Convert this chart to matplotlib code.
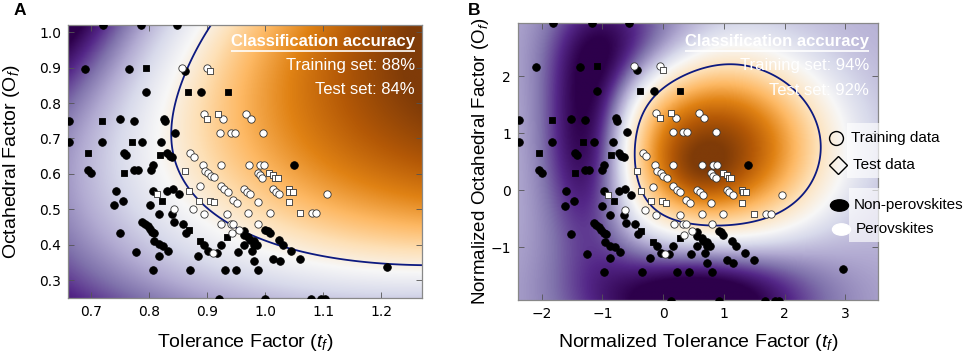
"""Perovskite formability: SVM decision maps in raw and normalized factor space"""

import numpy as np
import matplotlib

matplotlib.use("Agg")
import matplotlib.pyplot as plt
from matplotlib.colors import TwoSlopeNorm
from matplotlib.lines import Line2D
from matplotlib.patches import Rectangle
from matplotlib.path import Path

plt.rcParams["font.family"] = ["Liberation Sans", "DejaVu Sans"]
plt.rcParams["mathtext.fontset"] = "custom"
plt.rcParams["mathtext.rm"] = "Liberation Sans"
plt.rcParams["mathtext.it"] = "Liberation Sans:italic"

# ---- data (tolerance factor, octahedral factor) ----
# non-perovskites, training set (black circles)
non_train_tf = [0.72, 0.786, 0.848, 0.69, 0.765, 0.861, 0.794, 0.89, 0.662, 0.749,
                0.774, 0.826, 0.827, 0.845, 0.662, 0.718, 0.788, 0.821, 0.757, 0.76,
                0.831, 0.835, 0.84, 1.05, 0.695, 0.70, 0.774, 0.781, 0.803, 0.806,
                0.742, 0.806, 0.831, 0.841, 0.851, 0.74, 0.755, 0.802, 0.816, 0.839,
                0.843, 0.858, 0.788, 0.792, 0.797, 0.801, 0.805, 0.809, 0.75, 0.864,
                0.808, 0.816, 0.824, 0.833, 0.777, 0.816, 0.806, 0.87, 0.93, 0.95,
                0.988, 0.895, 0.884, 0.902, 0.916, 0.923, 0.953, 0.963, 0.964, 0.971,
                0.974, 0.98, 1.0, 1.004, 1.008, 1.023, 0.963, 0.98, 0.986, 1.03,
                0.977, 1.044, 1.014, 1.025, 1.06, 0.981, 1.21, 0.92, 1.0, 1.079,
                1.096, 1.103]
non_train_of = [1.02, 1.02, 1.02, 0.897, 0.897, 0.89, 0.83, 0.83, 0.75, 0.754,
                0.749, 0.756, 0.748, 0.716, 0.69, 0.69, 0.69, 0.69, 0.658, 0.652,
                0.658, 0.651, 0.648, 0.625, 0.61, 0.602, 0.61, 0.61, 0.61, 0.626,
                0.553, 0.553, 0.553, 0.558, 0.543, 0.511, 0.525, 0.511, 0.487, 0.487,
                0.465, 0.46, 0.465, 0.458, 0.452, 0.445, 0.437, 0.434, 0.434, 0.434,
                0.41, 0.401, 0.397, 0.383, 0.379, 0.368, 0.328, 0.328, 0.328, 0.328,
                0.328, 0.40, 0.368, 0.382, 0.378, 0.40, 0.379, 0.438, 0.429, 0.422,
                0.413, 0.41, 0.443, 0.438, 0.432, 0.413, 0.399, 0.399, 0.399, 0.399,
                0.382, 0.382, 0.36, 0.354, 0.36, 0.354, 0.337, 0.248, 0.248, 0.248,
                0.248, 0.248]

# non-perovskites, test set (black squares)
non_test_tf = [0.794, 0.866, 0.935, 0.718, 0.77, 0.695, 0.818, 0.756, 0.822, 0.868,
               0.888, 0.934]
non_test_of = [0.90, 0.83, 0.83, 0.75, 0.69, 0.658, 0.653, 0.604, 0.525, 0.443,
               0.41, 0.422]

# perovskites, training set (white circles)
per_train_tf = [0.857, 0.90, 0.894, 0.927, 0.967, 0.975, 0.922, 0.94, 0.947, 0.996,
                0.871, 0.877, 0.892, 0.923, 0.972, 0.991, 0.998, 0.896, 0.902, 0.906,
                0.912, 0.987, 0.991, 0.995, 0.888, 0.923, 0.929, 0.935, 0.963, 0.968,
                0.974, 1.014, 1.018, 1.024, 1.107, 0.945, 0.952, 0.987, 0.842, 0.876,
                0.894, 0.934, 0.971, 1.008, 1.08, 1.088, 0.924, 0.94, 0.944, 0.988,
                0.942, 0.955, 0.909, 1.28]
per_train_of = [0.90, 0.90, 0.77, 0.755, 0.77, 0.755, 0.716, 0.716, 0.716, 0.716,
                0.658, 0.649, 0.625, 0.625, 0.625, 0.625, 0.625, 0.609, 0.602, 0.595,
                0.59, 0.604, 0.596, 0.588, 0.565, 0.566, 0.557, 0.549, 0.557, 0.55,
                0.543, 0.557, 0.55, 0.543, 0.543, 0.527, 0.519, 0.52, 0.501, 0.501,
                0.487, 0.487, 0.49, 0.49, 0.49, 0.49, 0.46, 0.46, 0.46, 0.46,
                0.432, 0.443, 0.378, 0.337]

# perovskites, test set (white squares)
per_test_tf = [0.905, 0.90, 0.919, 0.862, 0.813, 0.868, 0.885, 0.904, 0.911, 1.007,
               1.014, 1.017, 1.021, 1.04, 1.041, 1.047, 1.04, 1.06]
per_test_of = [0.89, 0.755, 0.77, 0.609, 0.543, 0.553, 0.525, 0.525, 0.52, 0.604,
               0.597, 0.588, 0.588, 0.557, 0.55, 0.55, 0.52, 0.49]

# panel A decision boundary
bound_tf = [0.909, 0.857, 0.84, 0.836, 0.84, 0.852, 0.863, 0.903, 0.947, 1.004,
            1.062, 1.154, 1.273]
bound_of = [1.02, 0.90, 0.80, 0.72, 0.65, 0.60, 0.583, 0.49, 0.443, 0.41,
            0.382, 0.359, 0.345]

# panel A shading levels read at a few spots (-1 darkest purple, +1 darkest brown)
shade_tf = [0.66, 0.66, 0.66, 0.66, 0.75, 0.95, 1.27, 1.27, 1.27, 1.27, 1.1]
shade_of = [0.25, 0.45, 0.65, 1.02, 1.02, 0.25, 0.25, 0.45, 0.70, 1.02, 0.90]
shade_val = [-1.0, -0.55, -0.35, -0.8, -0.45, -0.35, -0.1, 0.25, 0.6, 1.0, 0.65]
# extra darkening in the top-left corner of panel A (tf, of, width tf, width of, level)
corner_shade = (0.62, 1.08, 0.11, 0.2, -0.33)

# normalization used for panel B
tf_mean, tf_std = 0.906, 0.1029
of_mean, of_std = 0.5557, 0.1584

# panel B RBF-like decision surface: gaussian terms in normalized units
rbf_u = [0.85, 0.6, -1.2, -0.5, 0.6]
rbf_v = [0.75, 0.35, 0.9, 2.6, -1.9]
rbf_su = [1.2, 0.45, 0.55, 0.8, 1.3]
rbf_sv = [1.05, 0.4, 1.3, 0.7, 0.7]
rbf_w = [2.65, 0.4, -1.3, -0.6, -1.2]
rbf_bias = -0.92

acc_a = ("88%", "84%")
acc_b = ("94%", "92%")

xlim_a, ylim_a = (0.66, 1.27), (0.25, 1.02)
xlim_b = ((xlim_a[0] - tf_mean) / tf_std, (xlim_a[1] - tf_mean) / tf_std)
ylim_b = ((ylim_a[0] - of_mean) / of_std, (ylim_a[1] - of_mean) / of_std)


def to_norm(tf, of):
    return (np.asarray(tf) - tf_mean) / tf_std, (np.asarray(of) - of_mean) / of_std


def quad_terms(u, v):
    return np.stack([u**2, u * v, v**2, u, v, np.ones_like(u)], axis=-1)


# quadratic (poly-kernel-like) surface for panel A: zero on the boundary,
# matching the shading levels elsewhere
bu, bv = to_norm(bound_tf, bound_of)
su_, sv_ = to_norm(shade_tf, shade_of)
rows = np.vstack([quad_terms(bu, bv) * 4.0, quad_terms(su_, sv_)])
target = np.concatenate([np.zeros(len(bu)), np.asarray(shade_val)])
coef = np.linalg.lstsq(rows, target, rcond=None)[0]


def rbf_surface(u, v):
    out = np.full_like(u, rbf_bias)
    for cu, cv, su, sv, w in zip(rbf_u, rbf_v, rbf_su, rbf_sv, rbf_w):
        out += w * np.exp(-((u - cu) ** 2 / (2 * su**2) + (v - cv) ** 2 / (2 * sv**2)))
    return out


fig = plt.figure(figsize=(9.65, 3.6), dpi=100)
axA = fig.add_axes([0.0705, 0.1722, 0.3668, 0.7583])
axB = fig.add_axes([0.5368, 0.1667, 0.373, 0.7694])

# ---- panel A ----
gx = np.linspace(*xlim_a, 400)
gy = np.linspace(*ylim_a, 400)
GX, GY = np.meshgrid(gx, gy)
GU, GV = to_norm(GX, GY)
fa = quad_terms(GU, GV) @ coef
ct, co, wt, wo, lev = corner_shade
fa = fa + lev * np.exp(-((GX - ct) ** 2 / (2 * wt**2) + (GY - co) ** 2 / (2 * wo**2)))
norm_a = TwoSlopeNorm(vmin=-1.0, vcenter=-0.06, vmax=0.82)
axA.imshow(fa, extent=(*xlim_a, *ylim_a), origin="lower", aspect="auto",
           cmap="PuOr_r", norm=norm_a, interpolation="bilinear", zorder=0)
axA.contour(GX, GY, fa, levels=[0], colors="#0d1a80", linewidths=1.3, zorder=2)

# ---- panel B ----
hx = np.linspace(*xlim_b, 400)
hy = np.linspace(*ylim_b, 400)
HX, HY = np.meshgrid(hx, hy)
fb = rbf_surface(HX, HY)
norm_b = TwoSlopeNorm(vmin=-1.75, vcenter=-0.4, vmax=1.9)
axB.imshow(fb, extent=(*xlim_b, *ylim_b), origin="lower", aspect="auto",
           cmap="PuOr_r", norm=norm_b, interpolation="bilinear", zorder=0)
axB.contour(HX, HY, fb, levels=[0], colors="#0d1a80", linewidths=1.3, zorder=2)


def draw_points(ax, normalized):
    sets = [(non_train_tf, non_train_of, "o", "black", "black", 30),
            (non_test_tf, non_test_of, "s", "black", "black", 22),
            (per_train_tf, per_train_of, "o", "white", "#333333", 28),
            (per_test_tf, per_test_of, "s", "white", "#333333", 22)]
    for tf, of, mk, fc, ec, s in sets:
        x, y = (to_norm(tf, of) if normalized else (tf, of))
        ax.scatter(x, y, s=s, marker=mk, facecolor=fc, edgecolor=ec,
                   linewidths=0.6, zorder=3)


draw_points(axA, False)
draw_points(axB, True)

axA.set_xlim(*xlim_a)
axA.set_ylim(*ylim_a)
axA.set_xticks([0.7, 0.8, 0.9, 1.0, 1.1, 1.2])
axA.set_yticks([0.3, 0.4, 0.5, 0.6, 0.7, 0.8, 0.9, 1.0])
axB.set_xlim(*xlim_b)
axB.set_ylim(*ylim_b)
axB.set_xticks([-2, -1, 0, 1, 2, 3])
axB.set_yticks([-1, 0, 1, 2])

for ax in (axA, axB):
    ax.tick_params(direction="in", top=True, right=True, length=4, width=0.6,
                   color="#555555", labelsize=10, pad=5)
    for lbl in ax.get_xticklabels() + ax.get_yticklabels():
        lbl.set_fontfamily("DejaVu Sans")
    for sp in ax.spines.values():
        sp.set_color("#888888")
        sp.set_linewidth(0.9)

axA.set_xlabel(r"Tolerance Factor ($t_f$)", fontsize=14)
axA.set_ylabel(r"Octahedral Factor (O$_f$)", fontsize=14)
axA.xaxis.set_label_coords(0.5, -0.125)
axA.yaxis.set_label_coords(-0.13, 0.5)
axB.set_xlabel(r"Normalized Tolerance Factor ($t_f$)", fontsize=14)
axB.set_ylabel(r"Normalized Octahedral Factor (O$_f$)", fontsize=13.5)
axB.xaxis.set_label_coords(0.5, -0.117)
axB.yaxis.set_label_coords(-0.075, 0.5)

titles = []
for ax, acc, x_r, ys in ((axA, acc_a, 0.98, (0.9396, 0.8535, 0.762)),
                         (axB, acc_b, 0.975, (0.933, 0.848, 0.758))):
    t = ax.text(x_r, ys[0], "Classification accuracy", transform=ax.transAxes,
                ha="right", va="center", color="white", fontweight="bold",
                fontsize=12, zorder=5)
    ax.text(x_r, ys[1], "Training set: " + acc[0], transform=ax.transAxes,
            ha="right", va="center", color="white", fontsize=12, zorder=5)
    ax.text(x_r, ys[2], "Test set: " + acc[1], transform=ax.transAxes,
            ha="right", va="center", color="white", fontsize=12, zorder=5)
    titles.append((ax, t))

# underline the "Classification accuracy" headers
fig.canvas.draw()
renderer = fig.canvas.get_renderer()
for ax, t in titles:
    bb = t.get_window_extent(renderer).transformed(ax.transAxes.inverted())
    ax.plot([bb.x0, bb.x1], [bb.y0 - 0.008, bb.y0 - 0.008], color="white",
            lw=1.2, transform=ax.transAxes, zorder=5, solid_capstyle="butt")

fig.text(20 / 965, 1 - 10.5 / 360, "A", fontweight="bold", fontsize=12.5,
         ha="center", va="center")
fig.text(474 / 965, 1 - 10.5 / 360, "B", fontweight="bold", fontsize=12.5,
         ha="center", va="center")

# ---- legend boxes to the right of panel B ----
W, H = 965.0, 360.0
for x0, y0, x1, y1 in ((847, 123, 975, 178), (849, 188, 975, 242)):
    fig.add_artist(Rectangle((x0 / W, 1 - y1 / H), (x1 - x0) / W, (y1 - y0) / H,
                             transform=fig.transFigure, facecolor="white",
                             alpha=0.65, edgecolor="none", zorder=4))

blob = Path(Path.unit_circle().vertices * [1.35, 0.85], Path.unit_circle().codes)
legend_items = [
    ("Training data", 836, 138, dict(marker="o", markersize=10, markerfacecolor="none",
                                     markeredgecolor="black", markeredgewidth=1.0)),
    ("Test data", 838, 165, dict(marker="D", markersize=9.5, markerfacecolor="none",
                                 markeredgecolor="black", markeredgewidth=1.0)),
    ("Non-perovskites", 839, 205, dict(marker=blob, markersize=13, markerfacecolor="black",
                                       markeredgecolor="black")),
    ("Perovskites", 841, 229, dict(marker=blob, markersize=13, markerfacecolor="white",
                                   markeredgecolor="white")),
]
for label, mx, my, style in legend_items:
    fig.add_artist(Line2D([mx / W], [1 - my / H], transform=fig.transFigure,
                          linestyle="none", zorder=5, **style))
    fig.text((mx + 15) / W, 1 - my / H, label, fontsize=11, ha="left",
             va="center", zorder=5)

fig.savefig("out.png", dpi=100)
